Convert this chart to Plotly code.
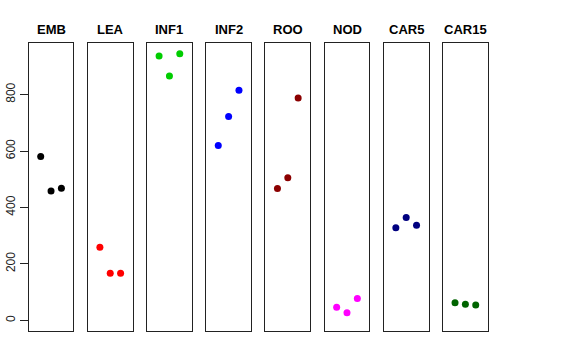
import plotly.graph_objects as go

categories = ["EMB", "LEA", "INF1", "INF2", "ROO", "NOD", "CAR5", "CAR15"]
values = {
    "EMB": [581, 458, 468],
    "LEA": [259, 167, 167],
    "INF1": [937, 866, 945],
    "INF2": [620, 722, 815],
    "ROO": [467, 505, 788],
    "NOD": [46, 27, 77],
    "CAR5": [328, 364, 337],
    "CAR15": [62, 57, 54],
}
colors = ["#000000", "#FF0000", "#00CD00", "#0000FF", "#8B0000", "#FF00FF", "#000080", "#006400"]
replicates = [1, 2, 3]
y_ticks = [0, 200, 400, 600, 800]

W, H = 576, 360
left0, pitch, pw = 28.7, 59.19, 44.7
top, bottom = 43, 331
ymax = 945
yext = ymax * 0.04
yrange = [-yext, ymax + yext]
xrange = [-0.16, 4.16]

fig = go.Figure()
font_family = "Liberation Sans, Arial, Helvetica, sans-serif"
for i, cat in enumerate(categories):
    n = "" if i == 0 else str(i + 1)
    fig.add_trace(go.Scatter(
        x=replicates, y=values[cat], mode="markers",
        marker=dict(color=colors[i], size=7),
        xaxis="x" + n, yaxis="y" + n, showlegend=False, hoverinfo="y",
    ))
    x0 = (left0 + pitch * i) / W
    x1 = (left0 + pitch * i + pw) / W
    fig.layout["xaxis" + n] = dict(
        domain=[x0, x1], range=xrange, showline=True, mirror=True,
        linecolor="#222", linewidth=1, showgrid=False, zeroline=False,
        showticklabels=False, ticks="", anchor="y" + n, fixedrange=True,
        automargin=False,
    )
    ydict = dict(
        domain=[1 - bottom / H, 1 - top / H], range=yrange, showline=True,
        mirror=True, linecolor="#222", linewidth=1, showgrid=False,
        zeroline=False, anchor="x" + n, fixedrange=True, automargin=False,
    )
    if i == 0:
        ydict.update(ticks="outside", ticklen=8, tickcolor="#222", tickwidth=1,
                     tickvals=y_ticks, ticktext=[str(v) for v in y_ticks],
                     tickangle=-90, showticklabels=True,
                     tickfont=dict(size=12, color="#222", family=font_family))
    else:
        ydict.update(showticklabels=False, ticks="")
    fig.layout["yaxis" + n] = ydict
    fig.add_annotation(
        text="<b>" + cat + "</b>", x=(x0 + x1) / 2, y=1 - 29 / H,
        xref="paper", yref="paper", showarrow=False,
        font=dict(size=13, color="#000", family=font_family),
        xanchor="center", yanchor="middle",
    )

fig.update_layout(
    width=W, height=H, margin=dict(l=0, r=0, t=0, b=0, autoexpand=False),
    paper_bgcolor="white", plot_bgcolor="white",
    font=dict(family=font_family),
)
fig.write_html("out.html", config={"displayModeBar": False},
               post_script="document.body.style.margin='0';")
